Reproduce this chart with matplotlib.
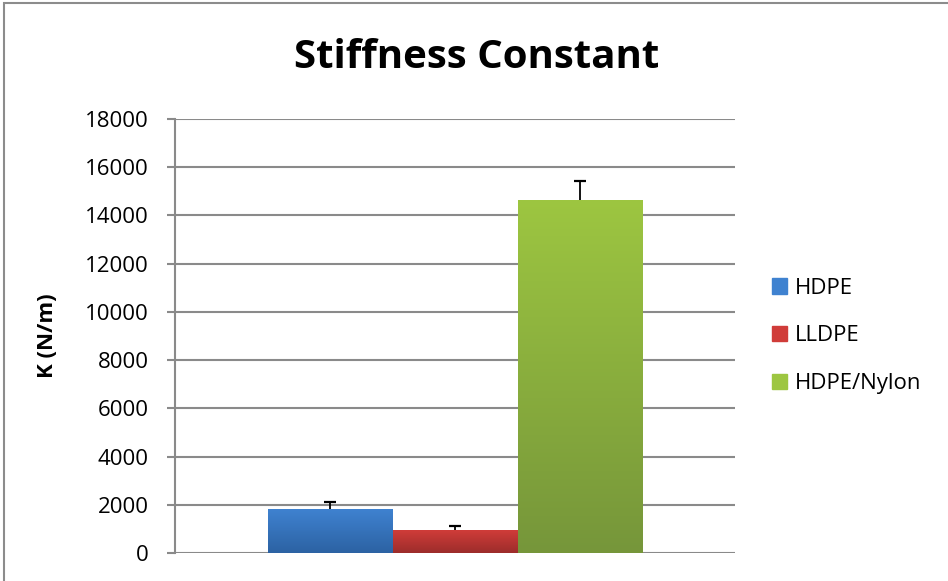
import matplotlib
matplotlib.use("Agg")
import matplotlib.pyplot as plt
import numpy as np
from matplotlib.patches import Rectangle
from matplotlib.colors import LinearSegmentedColormap

materials = ["HDPE", "LLDPE", "HDPE/Nylon"]
stiffness = [1820, 950, 14650]
errors = [300, 150, 770]
yticks = [0, 2000, 4000, 6000, 8000, 10000, 12000, 14000, 16000, 18000]

top_colors = ["#3f82d0", "#d03c39", "#9dc641"]
bot_colors = ["#2c62a3", "#9c2d2b", "#76963a"]

plt.rcParams['font.family'] = ['Open Sans', 'DejaVu Sans']

fig = plt.figure(figsize=(9.48, 5.81), dpi=100)
ax = fig.add_axes([175/948, 1-553/581, (735-175)/948, (553-119)/581])

# border around chart area
fig.patches.append(Rectangle((4/948, -0.05), 1.2, 1-3/581+0.05, transform=fig.transFigure,
                             fill=False, edgecolor="#8c8c8c", linewidth=1.5))

width = 125/560
x0 = 0.5 - 1.5*width
xs = [x0 + (i+0.5)*width for i in range(3)]
cap_half = 6/560

grad = np.linspace(0, 1, 256).reshape(-1, 1)
for i, (x, v, e) in enumerate(zip(xs, stiffness, errors)):
    bar = ax.bar(x, v, width=width, color=top_colors[i], label=materials[i], zorder=2, linewidth=0)[0]
    cmap = LinearSegmentedColormap.from_list("g", [bot_colors[i], top_colors[i]])
    im = ax.imshow(grad, cmap=cmap, aspect="auto", extent=[x-width/2, x+width/2, 0, v],
                   origin="lower", zorder=2.5)
    im.set_clip_path(bar)
    ax.vlines(x, v, v + e, color="black", linewidth=1.3, zorder=3)
    ax.hlines(v + e, x - cap_half, x + cap_half, color="black", linewidth=1.6, zorder=3)
ax.set_xlim(0, 1)
ax.set_ylim(0, 18000)

ax.set_yticks(yticks)
ax.set_yticklabels([str(t) for t in yticks], fontsize=16)
ax.set_xticks([])
ax.yaxis.grid(True, color="#8a8a8a", linewidth=1.5, zorder=0)
ax.set_axisbelow(True)
for s in ["top", "right", "bottom"]:
    ax.spines[s].set_visible(False)
ax.spines["left"].set_color("#8a8a8a")
ax.spines["left"].set_linewidth(1.5)
ax.tick_params(axis="y", length=6, width=1.5, color="#8a8a8a", pad=13)

ax.set_ylabel("K (N/m)", fontsize=16, fontweight="bold")
ax.yaxis.set_label_coords((58-175)/560, 0.5)
fig.text(477/948, 1-58/581, "Stiffness Constant", fontsize=29, fontweight="bold",
         ha="center", va="center")

handles = [Rectangle((0, 0), 1, 1, color=c) for c in top_colors]
fig.legend(handles, materials, loc="center left", bbox_to_anchor=(772/948, 1-336/581),
           frameon=False, fontsize=16, handlelength=0.68, handleheight=0.68,
           labelspacing=1.2, handletextpad=0.35, borderpad=0, borderaxespad=0)

fig.savefig("out.png", dpi=100)
